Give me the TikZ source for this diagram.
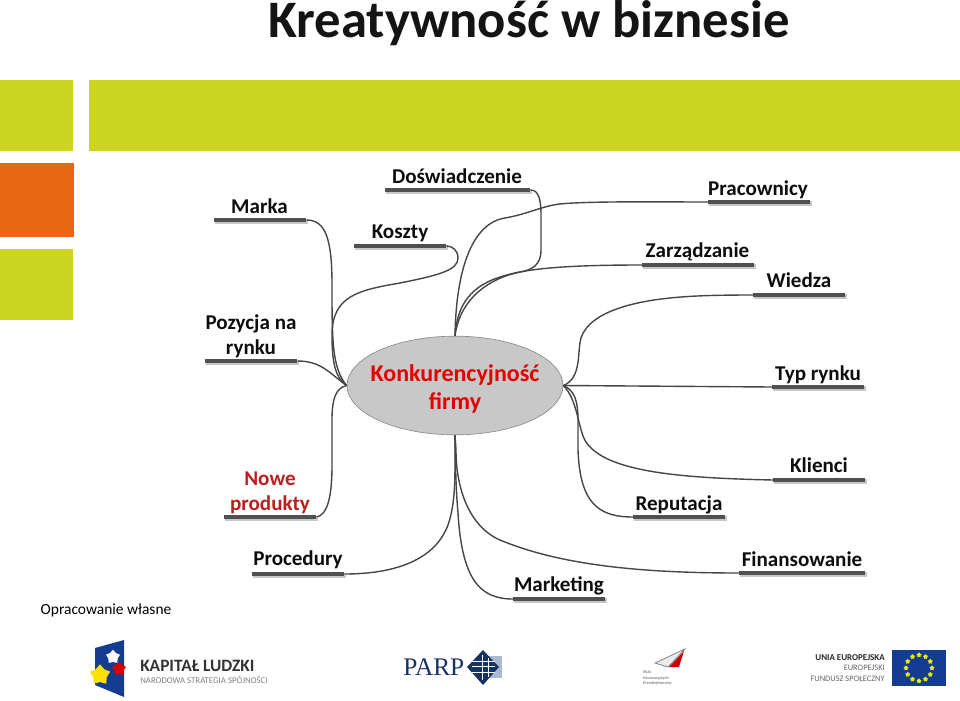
\documentclass[tikz,border=0pt]{standalone}
\usepackage{fontspec}
\setmainfont{Carlito}
\newfontfamily\parpfont{Liberation Serif}
\usetikzlibrary{shapes.geometric}
\definecolor{lime}{RGB}{203,213,33}
\definecolor{orng}{RGB}{233,103,20}
\definecolor{barc}{RGB}{80,80,80}
\definecolor{linec}{RGB}{70,70,70}
\definecolor{ovalc}{RGB}{200,200,200}
\definecolor{navy}{RGB}{24,50,100}
\definecolor{eublue}{RGB}{20,60,145}
\definecolor{lightb}{RGB}{170,185,210}
\definecolor{nowec}{RGB}{190,30,30}
\tikzset{
  bar/.style={fill=barc,draw=none,inner sep=0pt,minimum height=3.6pt,rectangle},
  lbl/.style={font=\fontsize{15.8pt}{19pt}\selectfont\bfseries,text=black!95,align=center,inner sep=0pt},
  conn/.style={draw=linec,line width=1.05pt},
  euflag/.style={star,star points=5,fill=yellow!90!green,inner sep=0pt,minimum size=4pt,draw=none},
}
\newcommand{\barnode}[4]{% name, x1, x2, y
  \fill[black!22] (#2+1,#4-1) rectangle (#3+2,#4+4);
  \node[bar,anchor=west,minimum width={(#3-#2)*0.75pt}] (#1) at (#2,#4) {};
}
\begin{document}
\begin{tikzpicture}[x=0.75pt,y=-0.75pt]
\useasboundingbox (0,0) rectangle (960,700);
\fill[white] (0,0) rectangle (960,700);
% header blocks
\fill[lime] (0,80) rectangle (73,151);
\fill[lime] (89,80) rectangle (960,151);
\fill[orng] (0,163) rectangle (74,237);
\fill[lime] (0,249) rectangle (73,320);
\node[font=\fontsize{39.5pt}{44pt}\selectfont\bfseries,text=black!92,inner sep=0pt,anchor=base] (title) at (529,37) {Kreatywność w biznesie};
% hub
\node[ellipse,draw=black!45,line width=0.5pt,fill=ovalc,minimum width=162pt,minimum height=74pt,inner sep=0pt] (hub) at (455,385.5) {};
\node[font=\fontsize{18pt}{21pt}\selectfont\bfseries,text=red!90!black,align=center,inner sep=0pt] (hubtext) at (455,389) {Konkurencyjność\\firmy};
\coordinate (hw) at (hub.west);
\coordinate (he) at (hub.east);
\coordinate (hn) at (hub.north);
\coordinate (hs) at (hub.south);
% bars
\barnode{marka}{214}{306}{220}
\barnode{dosw}{385}{530}{190}
\barnode{koszty}{354}{446}{246}
\barnode{prac}{708}{810}{202}
\barnode{zarz}{642}{754}{265}
\barnode{wiedza}{753}{845}{295}
\barnode{pozy}{205}{297}{361}
\barnode{typ}{772}{864}{387}
\barnode{nowe}{224}{316}{517}
\barnode{rep}{633}{725}{517}
\barnode{klie}{773}{865}{480}
\barnode{proc}{252}{344}{574}
\barnode{mark}{513}{605}{599}
\barnode{fin}{739}{865}{573}
% labels
\node[lbl] (l1) at (259.5,206) {Marka};
\node[lbl] (l2) at (457,176) {Doświadczenie};
\node[lbl] (l3) at (400,233) {Koszty};
\node[lbl] (l4) at (758,189.5) {Pracownicy};
\node[lbl] (l5) at (697.5,252) {Zarządzanie};
\node[lbl] (l6) at (799,280) {Wiedza};
\node[lbl] (l7) at (251,336) {Pozycja na\\rynku};
\node[lbl] (l8) at (818,375) {Typ rynku};
\node[lbl,text=nowec] (l9) at (270,492.5) {Nowe\\produkty};
\node[lbl] (l10) at (679,505) {Reputacja};
\node[lbl] (l11) at (819,465) {Klienci};
\node[lbl] (l12) at (298,560) {Procedury};
\node[lbl] (l13) at (559,586) {Marketing};
\node[lbl] (l14) at (802,559) {Finansowanie};
\node[font=\fontsize{11.6pt}{13pt}\selectfont,inner sep=0pt] (src) at (106,610) {Opracowanie własne};
% connectors
\path[conn] (marka.east) .. controls (326,220) and (332,240) .. (332,285) .. controls (332,340) and (332,368) .. (hw);
\path[conn] (koszty.east) .. controls (452,246) and (458,250) .. (458,258) .. controls (458,270) and (440,275) .. (400,283) .. controls (360,290) and (332,295) .. (332,335) .. controls (332,365) and (336,378) .. (hw);
\path[conn] (pozy.east) .. controls (322,361) and (330,374) .. (hw);
\path[conn] (nowe.east) .. controls (328,515) and (332,495) .. (332,465) -- (332,420) .. controls (332,398) and (336,388) .. (hw);
\path[conn] (dosw.east) .. controls (538,190) and (541,198) .. (541,215) -- (541,250) .. controls (541,265) and (532,270) .. (520,272) .. controls (484,279) and (458,292) .. (hn);
\path[conn] (prac.west) .. controls (660,202) and (590,201) .. (560,204) .. controls (542,206) and (528,214) .. (505,218) .. controls (472,223) and (456,270) .. (hn);
\path[conn] (zarz.west) .. controls (600,265) and (550,266) .. (520,272) .. controls (490,278) and (460,298) .. (hn);
\path[conn] (wiedza.west) .. controls (710,295) and (690,296) .. (670,298) .. controls (640,301) and (590,310) .. (581,338) .. controls (577,352) and (582,378) .. (he);
\path[conn] (typ.west) -- (he);
\path[conn] (klie.west) .. controls (680,478) and (606,472) .. (586,442) .. controls (578,430) and (578,400) .. (he);
\path[conn] (rep.west) .. controls (600,517) and (580,505) .. (578,450) -- (578,420) .. controls (578,400) and (574,390) .. (he);
\path[conn] (proc.east) .. controls (395,574) and (435,560) .. (448,525) .. controls (455,505) and (455,480) .. (455,460) -- (hs);
\path[conn] (mark.west) .. controls (480,599) and (462,580) .. (458,513) .. controls (456,490) and (455.5,470) .. (hs);
\path[conn] (fin.west) .. controls (640,573) and (560,565) .. (500,540) .. controls (470,527) and (456,490) .. (456,450) -- (hs);
% logo: Kapital Ludzki
\fill[eublue] (95,648) -- (124,640) -- (124,697) -- (95,685) -- cycle;
\node[star,star points=5,fill=white,inner sep=0pt,minimum size=11pt,draw=none] (s1) at (113,657) {};
\node[star,star points=5,fill=red!85!black,inner sep=0pt,minimum size=11pt,draw=none] (s2) at (119,669) {};
\node[star,star points=5,fill=yellow!85!orange,inner sep=0pt,minimum size=16pt,draw=none] (s3) at (100,675) {};
\node[anchor=west,font=\fontsize{13pt}{14pt}\selectfont\bfseries,text=black!80,inner sep=0pt] (kl) at (140,666) {KAPITAŁ LUDZKI};
\node[anchor=west,font=\fontsize{6.6pt}{8pt}\selectfont,text=black!50,inner sep=0pt] (kl2) at (140,680) {NARODOWA STRATEGIA SPÓJNOŚCI};
% logo: PARP
\node[anchor=west,font=\parpfont\fontsize{19pt}{20pt}\selectfont,text=navy,inner sep=0pt] (parp) at (403,667) {PARP};
\fill[lightb] (486,656) rectangle (502,678);
\fill[navy] (467,667) -- (483,650) -- (499,667) -- (483,685) -- cycle;
\foreach \yy in {661,666,672}{\fill[white] (472,\yy) rectangle (495,\yy+1.3);}
\fill[white] (482,655) rectangle (483.3,680);
\fill[white] (488,658) rectangle (489.3,677);
% logo: plane
\fill[black!8] (655,663) -- (685,649) -- (668,667) -- cycle;
\draw[black!55,line width=0.5pt] (655,663) -- (685,649) -- (668,667) -- cycle;
\fill[red!80!black] (684,651) -- (669,667) -- (679,667) -- cycle;
\node[anchor=north west,font=\fontsize{3.2pt}{4.4pt}\selectfont,align=left,text=black!65,inner sep=0pt] (klub) at (643,670) {Klub\\innowacyjnych\\Przedsiębiorców};
% logo: EU
\node[anchor=east,font=\fontsize{6.3pt}{7.7pt}\selectfont,align=right,text=black!60,inner sep=0pt] (eu) at (885,668)
  {\textbf{\textcolor{black!85}{\fontsize{6.7pt}{7.7pt}\selectfont UNIA EUROPEJSKA}}\\EUROPEJSKI\\FUNDUSZ SPOŁECZNY};
\fill[eublue] (892,650) rectangle (946,686);
\foreach \a in {0,30,...,330}{
  \node[euflag] at ({919+13*cos(\a)},{668+13*sin(\a)}) {};
}
\end{tikzpicture}
\end{document}
